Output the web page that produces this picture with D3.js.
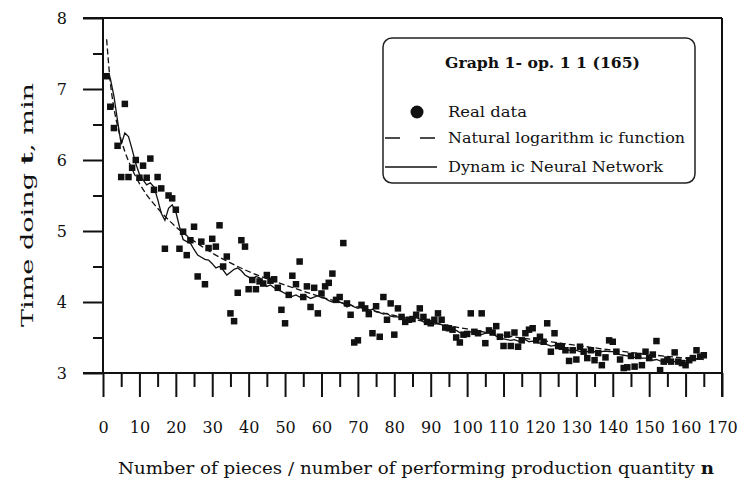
<!DOCTYPE html>
<html>
<head>
<meta charset="utf-8">
<script src="https://cdn.jsdelivr.net/npm/d3@7"></script>
<style>
  html, body { margin: 0; padding: 0; background: #fff; }
  svg { display: block; }
</style>
</head>
<body>
<svg id="chart" width="740" height="484"></svg>
<script>
// ---------- data ----------
const xTickValues = [0, 10, 20, 30, 40, 50, 60, 70, 80, 90, 100, 110, 120, 130, 140, 150, 160, 170];
const yTickValues = [3, 4, 5, 6, 7, 8];

// Real data: time per piece n = 1..165
const realData = [
  7.18, 6.75, 6.45, 6.20, 5.76, 6.79, 5.76, 5.89, 6.00, 5.75,
  5.92, 5.75, 6.02, 5.58, 5.76, 5.60, 4.75, 5.50, 5.46, 5.30,
  4.75, 4.99, 4.66, 4.87, 5.06, 4.36, 4.85, 4.25, 4.76, 4.89,
  4.78, 5.08, 4.50, 4.64, 3.84, 3.73, 4.13, 4.87, 4.78, 4.18,
  4.31, 4.18, 4.29, 4.26, 4.38, 4.30, 4.32, 4.20, 3.89, 3.70,
  4.10, 4.37, 4.25, 4.57, 4.07, 4.22, 3.93, 4.20, 3.84, 4.12,
  4.22, 4.27, 4.40, 4.03, 4.07, 4.83, 3.98, 3.82, 3.43, 3.46,
  3.96, 3.91, 3.83, 3.56, 3.94, 3.51, 4.07, 3.75, 3.98, 3.54,
  3.91, 3.79, 3.72, 3.75, 3.76, 3.82, 3.91, 3.79, 3.72, 3.70,
  3.75, 3.84, 3.75, 3.64, 3.63, 3.61, 3.50, 3.43, 3.54, 3.55,
  3.84, 3.58, 3.56, 3.84, 3.42, 3.60, 3.57, 3.66, 3.51, 3.38,
  3.54, 3.38, 3.57, 3.37, 3.46, 3.56, 3.61, 3.63, 3.46, 3.51,
  3.44, 3.70, 3.30, 3.56, 3.38, 3.37, 3.32, 3.17, 3.32, 3.19,
  3.37, 3.30, 3.21, 3.32, 3.18, 3.28, 3.11, 3.22, 3.46, 3.44,
  3.30, 3.19, 3.07, 3.08, 3.24, 3.09, 3.24, 3.11, 3.30, 3.21,
  3.26, 3.45, 3.04, 3.16, 3.19, 3.16, 3.29, 3.16, 3.14, 3.11,
  3.18, 3.21, 3.32, 3.23, 3.25
];

// Dynamic Neural Network output, n = 1..165
const dnnData = [
  7.19, 7.15, 6.90, 6.55, 6.22, 6.38, 6.33, 6.15, 5.95, 5.80,
  5.72, 5.65, 5.68, 5.62, 5.45, 5.25, 5.15, 5.32, 5.37, 5.27,
  5.06, 4.88, 4.85, 4.83, 4.74, 4.66, 4.63, 4.60, 4.59, 4.54,
  4.48, 4.50, 4.45, 4.38, 4.42, 4.46, 4.48, 4.44, 4.38, 4.35,
  4.31, 4.36, 4.34, 4.28, 4.22, 4.24, 4.20, 4.17, 4.15, 4.12,
  4.10, 4.08, 4.10, 4.07, 4.10, 4.08, 4.05, 4.07, 4.09, 4.06,
  4.05, 4.02, 4.00, 4.03, 4.00, 3.98, 3.93, 3.96, 3.93, 3.91,
  3.93, 3.89, 3.87, 3.90, 3.86, 3.85, 3.83, 3.84, 3.80, 3.79,
  3.79, 3.76, 3.75, 3.77, 3.75, 3.78, 3.76, 3.72, 3.71, 3.70,
  3.69, 3.70, 3.68, 3.65, 3.63, 3.62, 3.60, 3.57, 3.56, 3.58,
  3.58, 3.56, 3.55, 3.54, 3.56, 3.57, 3.55, 3.52, 3.49, 3.48,
  3.47, 3.46, 3.47, 3.45, 3.46, 3.47, 3.44, 3.45, 3.43, 3.42,
  3.43, 3.40, 3.38, 3.39, 3.37, 3.37, 3.35, 3.32, 3.33, 3.32,
  3.30, 3.31, 3.30, 3.29, 3.30, 3.29, 3.30, 3.31, 3.30, 3.30,
  3.28, 3.26, 3.25, 3.24, 3.23, 3.22, 3.23, 3.21, 3.21, 3.20,
  3.18, 3.19, 3.17, 3.16, 3.15, 3.17, 3.16, 3.15, 3.16, 3.17,
  3.18, 3.19, 3.20, 3.21, 3.22
];

// Natural logarithmic function
const logN = [1, 2, 3, 4, 5, 6, 8, 10, 12, 15, 20, 25, 30, 35, 40, 50, 60, 70, 80, 90, 100, 110, 120, 130, 140, 150, 160, 165];
const logT = [7.70, 7.10, 6.73, 6.48, 6.28, 6.12, 5.87, 5.67, 5.51, 5.32, 5.06, 4.86, 4.69, 4.55, 4.43, 4.24, 4.07, 3.93, 3.81, 3.71, 3.62, 3.53, 3.46, 3.39, 3.32, 3.26, 3.21, 3.19];

const legendTitle = "Graph 1- op. 1 1 (165)";
const legendLabels = ["Real data", "Natural logarithm ic function", "Dynam ic Neural Network"];

// ---------- chart ----------
const FONT = "'DejaVu Serif', 'Liberation Serif', serif";
const svg = d3.select("#chart");
svg.append("rect").attr("width", 740).attr("height", 484).attr("fill", "#fff");

const x = d3.scaleLinear().domain([0, 170]).range([103, 722]);
const y = d3.scaleLinear().domain([3, 8]).range([373, 18]);

const ink = "#111";

// x axis: major + minor ticks
const xMajor = svg.append("g").attr("transform", `translate(0,${y(3)})`)
  .call(d3.axisBottom(x).tickValues(xTickValues).tickSize(24).tickSizeOuter(0).tickPadding(25)
    .tickFormat(d3.format("d")));
const xMinor = svg.append("g").attr("transform", `translate(0,${y(3)})`)
  .call(d3.axisBottom(x).tickValues(xTickValues.slice(0, -1).map(v => v + 5)).tickSize(14).tickSizeOuter(0).tickFormat(""));

// y axis: major + minor ticks
const yMajor = svg.append("g").attr("transform", `translate(${x(0)},0)`)
  .call(d3.axisLeft(y).tickValues(yTickValues).tickSize(20).tickSizeOuter(0).tickPadding(16)
    .tickFormat(d3.format("d")));
const yMinor = svg.append("g").attr("transform", `translate(${x(0)},0)`)
  .call(d3.axisLeft(y).tickValues(yTickValues.slice(0, -1).map(v => v + 0.5)).tickSize(10).tickSizeOuter(0).tickFormat(""));

[xMajor, xMinor, yMajor, yMinor].forEach(g => {
  g.attr("font-family", null).attr("font-size", null);
  g.select(".domain").remove();
  g.selectAll(".tick line").attr("stroke", ink).attr("stroke-width", 2);
  g.selectAll(".tick text").style("font-family", FONT).style("font-size", "16px").attr("fill", ink);
});

// frame lines
const frame = svg.append("g").attr("stroke", ink).attr("stroke-width", 2).attr("fill", "none");
frame.append("line").attr("x1", x(0) - 20).attr("x2", x(170)).attr("y1", y(8)).attr("y2", y(8));
frame.append("line").attr("x1", x(0) - 20).attr("x2", x(170)).attr("y1", y(3)).attr("y2", y(3));
frame.append("line").attr("x1", x(0)).attr("x2", x(0)).attr("y1", y(8)).attr("y2", y(3));
frame.append("line").attr("x1", x(170)).attr("x2", x(170)).attr("y1", y(8)).attr("y2", y(3) + 24);

// log function (dashed)
const logPts = logN.map((n, i) => [n, logT[i]]);
svg.append("path")
  .datum(logPts)
  .attr("fill", "none").attr("stroke", ink).attr("stroke-width", 1.3)
  .attr("stroke-dasharray", "6,3")
  .attr("d", d3.line().x(d => x(d[0])).y(d => y(d[1])).curve(d3.curveMonotoneX));

// DNN line (solid)
svg.append("path")
  .datum(dnnData)
  .attr("fill", "none").attr("stroke", ink).attr("stroke-width", 1.3)
  .attr("d", d3.line().x((d, i) => x(i + 1)).y(d => y(d)));

// real data points
const s = 6.5;
svg.append("g").selectAll("rect").data(realData).join("rect")
  .attr("x", (d, i) => x(i + 1) - s / 2)
  .attr("y", d => y(d) - s / 2)
  .attr("width", s).attr("height", s)
  .attr("fill", ink);

// axis titles
const xt = svg.append("text")
  .attr("x", 118).attr("y", 474)
  .style("font-family", FONT).style("font-size", "17px").attr("fill", ink)
  .attr("textLength", 596).attr("lengthAdjust", "spacingAndGlyphs");
xt.append("tspan").text("Number of pieces / number of performing production quantity ");
xt.append("tspan").attr("font-weight", "bold").text("n");

const yt = svg.append("text")
  .attr("transform", "translate(33,327) rotate(-90)")
  .style("font-family", FONT).style("font-size", "17px").attr("fill", ink)
  .attr("textLength", 244).attr("lengthAdjust", "spacingAndGlyphs");
yt.append("tspan").text("Time  doing  ");
yt.append("tspan").attr("font-weight", "bold").text("t");
yt.append("tspan").text(", min");

// legend
const lg = svg.append("g");
lg.append("rect").attr("x", 383).attr("y", 38).attr("width", 312).attr("height", 145)
  .attr("rx", 9).attr("ry", 9).attr("fill", "#fff").attr("stroke", "#222").attr("stroke-width", 1.5);
lg.append("text").attr("x", 445).attr("y", 68)
  .style("font-family", FONT).style("font-size", "15px").attr("font-weight", "bold").attr("fill", ink)
  .attr("textLength", 195).attr("lengthAdjust", "spacingAndGlyphs").text(legendTitle);

lg.append("circle").attr("cx", 417).attr("cy", 112).attr("r", 6.5).attr("fill", ink);
lg.append("line").attr("x1", 385).attr("x2", 437).attr("y1", 138).attr("y2", 138)
  .attr("stroke", ink).attr("stroke-width", 1.5).attr("stroke-dasharray", "15,20");
lg.append("line").attr("x1", 385).attr("x2", 437).attr("y1", 167).attr("y2", 167)
  .attr("stroke", ink).attr("stroke-width", 1.5);

const labelWidths = [79, 237, 215];
const labelY = [117, 143, 172];
legendLabels.forEach((t, i) => {
  lg.append("text").attr("x", 448).attr("y", labelY[i])
    .style("font-family", FONT).style("font-size", "14px").attr("fill", ink)
    .attr("textLength", labelWidths[i]).attr("lengthAdjust", "spacingAndGlyphs").text(t);
});
</script>
</body>
</html>
